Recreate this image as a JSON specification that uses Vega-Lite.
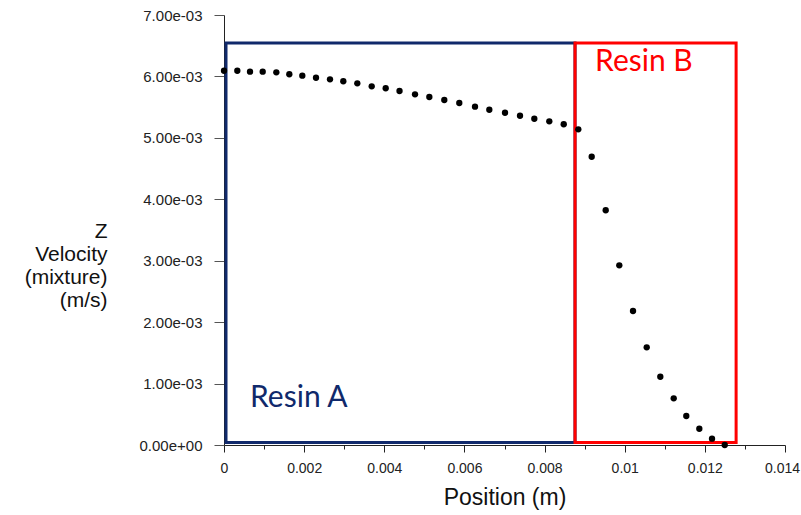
{
  "$schema": "https://vega.github.io/schema/vega-lite/v6.json",
  "autosize": "none",
  "width": 561,
  "height": 430,
  "padding": {"left": 224, "top": 15, "right": 16, "bottom": 70},
  "background": "white",
  "config": {"view": {"stroke": null}},
  "datasets": {
    "profile": [
      {"position": 0.0, "velocity": 0.006093},
      {"position": 0.000332, "velocity": 0.006093},
      {"position": 0.000649, "velocity": 0.006077},
      {"position": 0.000966, "velocity": 0.006077},
      {"position": 0.001306, "velocity": 0.006067},
      {"position": 0.00163, "velocity": 0.006035},
      {"position": 0.001954, "velocity": 0.006012},
      {"position": 0.002296, "velocity": 0.005979},
      {"position": 0.002645, "velocity": 0.005953},
      {"position": 0.002977, "velocity": 0.005921},
      {"position": 0.003327, "velocity": 0.005888},
      {"position": 0.003686, "velocity": 0.005839},
      {"position": 0.004035, "velocity": 0.005807},
      {"position": 0.00438, "velocity": 0.005763},
      {"position": 0.004767, "velocity": 0.005709},
      {"position": 0.005124, "velocity": 0.005665},
      {"position": 0.005498, "velocity": 0.005616},
      {"position": 0.005872, "velocity": 0.005567},
      {"position": 0.006264, "velocity": 0.005507},
      {"position": 0.006621, "velocity": 0.005458},
      {"position": 0.007013, "velocity": 0.005409},
      {"position": 0.007387, "velocity": 0.00536},
      {"position": 0.007744, "velocity": 0.005311},
      {"position": 0.008118, "velocity": 0.005269},
      {"position": 0.008478, "velocity": 0.005221},
      {"position": 0.008842, "velocity": 0.005139},
      {"position": 0.009176, "velocity": 0.004693},
      {"position": 0.009526, "velocity": 0.003821},
      {"position": 0.009865, "velocity": 0.002925},
      {"position": 0.010207, "velocity": 0.002181},
      {"position": 0.010549, "velocity": 0.00159},
      {"position": 0.010888, "velocity": 0.001111},
      {"position": 0.011223, "velocity": 0.00076},
      {"position": 0.011537, "velocity": 0.000472},
      {"position": 0.011862, "velocity": 0.000265},
      {"position": 0.012179, "velocity": 0.000103},
      {"position": 0.012496, "velocity": 0.0}
    ],
    "regions": [
      {"region": "Resin A", "x0": 0.00005, "x1": 0.00876, "y0": 0.00004, "y1": 0.006544, "lx": 0.00065, "ly": 0.00062},
      {"region": "Resin B", "x0": 0.00876, "x1": 0.01278, "y0": 0.00004, "y1": 0.006544, "lx": 0.00926, "ly": 0.00609}
    ]
  },
  "layer": [
    {
      "data": {"name": "regions"},
      "mark": {"type": "rect", "fill": null, "filled": false, "strokeWidth": 3},
      "encoding": {
        "x": {"field": "x0", "type": "quantitative", "scale": {"domain": [0, 0.014], "nice": false, "zero": true},
          "axis": {
            "values": [0,0.001,0.002,0.003,0.004,0.005,0.006,0.007,0.008,0.009,0.01,0.011,0.012,0.013,0.014],
            "labelExpr": "abs(datum.value*500 - round(datum.value*500)) < 0.001 ? format(datum.value, '~g') : ''",
            "tickSize": {"condition": {"test": "abs(datum.value*500 - round(datum.value*500)) < 0.001", "value": 7}, "value": 4},
            "labelOffset": {"condition": {"test": "datum.value > 0.0135", "value": -3}, "value": 0},
            "grid": false,
            "domainColor": "#222222",
            "domainWidth": 1,
            "tickColor": "#222222",
            "labelColor": "#222222",
            "labelFont": "Liberation Sans",
            "labelFontSize": 14,
            "labelPadding": 9,
            "labelFlush": false,
            "labelOverlap": false,
            "title": "Position (m)",
            "titleFont": "Liberation Sans",
            "titleFontSize": 23,
            "titleFontWeight": "normal",
            "titleColor": "#111111",
            "titlePadding": 11
          }
        },
        "x2": {"field": "x1"},
        "y": {"field": "y0", "type": "quantitative", "scale": {"domain": [0, 0.007], "nice": false, "zero": true},
          "axis": {
            "values": [0,0.00025,0.0005,0.00075,0.001,0.00125,0.0015,0.00175,0.002,0.00225,0.0025,0.00275,0.003,0.00325,0.0035,0.00375,0.004,0.00425,0.0045,0.00475,0.005,0.00525,0.0055,0.00575,0.006,0.00625,0.0065,0.00675,0.007],
            "labelExpr": "abs(datum.value*1000 - round(datum.value*1000)) < 0.001 ? (datum.value == 0 ? '0.00e+00' : replace(format(datum.value, '.2e'), 'e-', 'e-0')) : ''",
            "tickSize": {"condition": {"test": "abs(datum.value*1000 - round(datum.value*1000)) < 0.001", "value": 10}, "value": 6},
            "grid": false,
            "domainColor": "#222222",
            "domainWidth": 1,
            "tickColor": "#555555",
            "labelColor": "#222222",
            "labelFont": "Liberation Sans",
            "labelFontSize": 15,
            "labelPadding": 12,
            "labelFlush": false,
            "labelOverlap": false,
            "title": ["Z", "Velocity", "(mixture)", "(m/s)"],
            "titleAngle": 0,
            "titleAlign": "right",
            "titleBaseline": "top",
            "titleX": -117,
            "titleY": 205,
            "titleLineHeight": 23,
            "titleFont": "Liberation Sans",
            "titleFontSize": 21,
            "titleFontWeight": "normal",
            "titleColor": "#111111"
          }
        },
        "y2": {"field": "y1"},
        "stroke": {"field": "region", "type": "nominal", "scale": {"domain": ["Resin A", "Resin B"], "range": ["#10296b", "#ff0000"]}, "legend": null}
      }
    },
    {
      "data": {"name": "regions"},
      "mark": {"type": "text", "align": "left", "baseline": "alphabetic", "font": "Lato", "fontSize": 30},
      "encoding": {
        "x": {"field": "lx", "type": "quantitative"},
        "y": {"field": "ly", "type": "quantitative"},
        "text": {"field": "region", "type": "nominal"},
        "color": {"field": "region", "type": "nominal", "scale": {"domain": ["Resin A", "Resin B"], "range": ["#10296b", "#ff0000"]}, "legend": null}
      }
    },
    {
      "data": {"name": "profile"},
      "mark": {"type": "point", "filled": true, "shape": "circle", "size": 40, "color": "#000000", "opacity": 1},
      "encoding": {
        "x": {"field": "position", "type": "quantitative"},
        "y": {"field": "velocity", "type": "quantitative"}
      }
    }
  ]
}
